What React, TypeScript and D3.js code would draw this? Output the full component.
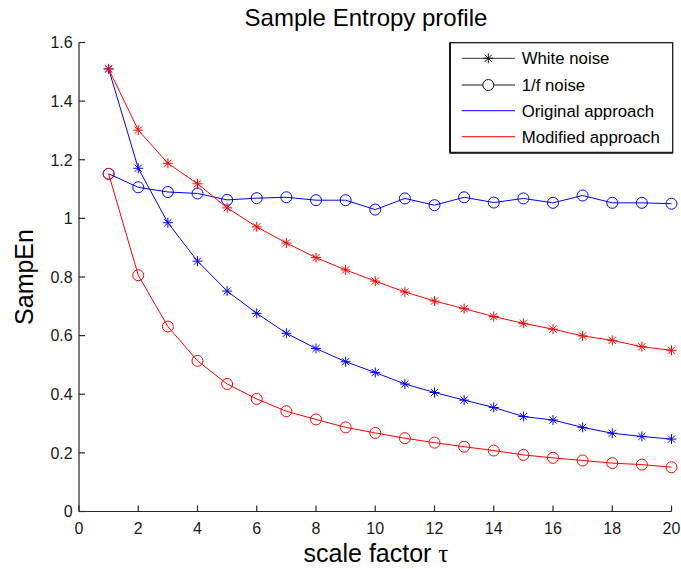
import React from "react";
import * as d3 from "d3";

const scaleFactors = d3.range(1, 21);
const whiteOriginal = [1.51, 1.171, 0.985, 0.854, 0.752, 0.676, 0.608, 0.556, 0.511, 0.474, 0.435, 0.406, 0.38, 0.355, 0.324, 0.312, 0.287, 0.267, 0.256, 0.247];
const whiteModified = [1.51, 1.301, 1.188, 1.118, 1.036, 0.971, 0.916, 0.866, 0.824, 0.786, 0.749, 0.718, 0.692, 0.665, 0.642, 0.622, 0.599, 0.584, 0.562, 0.55];
const pinkOriginal = [1.152, 1.106, 1.09, 1.085, 1.063, 1.069, 1.072, 1.062, 1.062, 1.03, 1.068, 1.045, 1.072, 1.054, 1.068, 1.053, 1.078, 1.053, 1.053, 1.05];
const pinkModified = [1.152, 0.806, 0.631, 0.514, 0.435, 0.384, 0.342, 0.314, 0.287, 0.268, 0.25, 0.235, 0.221, 0.208, 0.193, 0.183, 0.174, 0.165, 0.16, 0.151];
const xTicks = d3.range(0, 21, 2);
const yTicks = [0, 0.2, 0.4, 0.6, 0.8, 1, 1.2, 1.4, 1.6];
const legendLabels = ["White noise", "1/f noise", "Original approach", "Modified approach"];

const FONT = "Arial, 'Liberation Sans', Helvetica, sans-serif";
const BLUE = "#0000ff";
const RED = "#ff0000";

type Series = { values: number[]; color: string; marker: "star" | "circle" };
const series: Series[] = [
  { values: whiteOriginal, color: BLUE, marker: "star" },
  { values: pinkOriginal, color: BLUE, marker: "circle" },
  { values: whiteModified, color: RED, marker: "star" },
  { values: pinkModified, color: RED, marker: "circle" },
];

function Star({ x, y, color }: { x: number; y: number; color: string }) {
  const r = 5;
  const d = r * 0.72;
  return (
    <g stroke={color} strokeWidth={1}>
      <line x1={x - r} y1={y} x2={x + r} y2={y} />
      <line x1={x} y1={y - r} x2={x} y2={y + r} />
      <line x1={x - d} y1={y - d} x2={x + d} y2={y + d} />
      <line x1={x - d} y1={y + d} x2={x + d} y2={y - d} />
    </g>
  );
}

export default function App() {
  const W = 681, H = 569;
  const x = d3.scaleLinear().domain([0, 20]).range([79, 671.5]);
  const y = d3.scaleLinear().domain([0, 1.6]).range([511.5, 42.5]);
  const line = d3.line<number>().x((_, i) => x(scaleFactors[i])).y((v) => y(v));

  const lg = { x: 450, y: 42.7, w: 222.7, h: 110 };
  const rowsY = [58.3, 85, 110.7, 136.7];

  return (
    <svg width={W} height={H} style={{ position: "absolute", left: 0, top: 0, background: "#fff" }} fontFamily={FONT}>
      <rect x={0} y={0} width={W} height={H} fill="#fff" />
      {/* data */}
      {series.map((s, si) => (
        <g key={si}>
          <path d={line(s.values) || ""} fill="none" stroke={s.color} strokeWidth={1} />
          {s.values.map((v, i) =>
            s.marker === "star" ? (
              <Star key={i} x={x(scaleFactors[i])} y={y(v)} color={s.color} />
            ) : (
              <circle key={i} cx={x(scaleFactors[i])} cy={y(v)} r={5.5} fill="none" stroke={s.color} strokeWidth={1} />
            )
          )}
        </g>
      ))}
      {/* axes */}
      <g stroke="#262626" strokeWidth={1.2} fill="none">
        <line x1={x(0)} y1={y(0)} x2={x(20)} y2={y(0)} />
        <line x1={x(0)} y1={y(0)} x2={x(0)} y2={y(1.6)} />
        {xTicks.map((t) => (
          <line key={"xt" + t} x1={x(t)} y1={y(0)} x2={x(t)} y2={y(0) - 6} />
        ))}
        {yTicks.map((t) => (
          <line key={"yt" + t} x1={x(0)} y1={y(t)} x2={x(0) + 6} y2={y(t)} />
        ))}
      </g>
      <g fontSize={16} fill="#1a1a1a">
        {xTicks.map((t) => (
          <text key={"xl" + t} x={x(t)} y={533.5} textAnchor="middle">{t}</text>
        ))}
        {yTicks.map((t) => (
          <text key={"yl" + t} x={72.7} y={y(t) + 5.8} textAnchor="end">{String(t)}</text>
        ))}
      </g>
      <text x={366} y={26} fontSize={24} textAnchor="middle" fill="#000">Sample Entropy profile</text>
      <text x={376} y={562} fontSize={25} textAnchor="middle" fill="#000">
        scale factor <tspan fontFamily="'Liberation Serif', 'DejaVu Serif', serif">τ</tspan>
      </text>
      <text transform={`translate(33,${y(0.8)}) rotate(-90)`} fontSize={25} textAnchor="middle" fill="#000">SampEn</text>
      {/* legend */}
      <g>
        <rect x={lg.x} y={lg.y} width={lg.w} height={lg.h} fill="#fff" stroke="#1a1a1a" strokeWidth={1.3} />
        <line x1={lg.x} y1={lg.y + lg.h} x2={lg.x + lg.w} y2={lg.y + lg.h} stroke="#1a1a1a" strokeWidth={2} />
        <line x1={lg.x} y1={lg.y} x2={lg.x} y2={lg.y + lg.h} stroke="#1a1a1a" strokeWidth={2} />
        {legendLabels.map((lab, i) => {
          const ry = rowsY[i];
          const col = i === 0 ? "#333" : i === 1 ? "#666" : i === 2 ? BLUE : RED;
          return (
            <g key={lab}>
              <line x1={461.7} y1={ry} x2={515} y2={ry} stroke={col} strokeWidth={i === 1 ? 1.4 : 1} />
              {i === 0 && <Star x={488.3} y={ry} color="#111" />}
              {i === 1 && <circle cx={488.3} cy={ry} r={5.5} fill="#fff" stroke="#111" strokeWidth={1} />}
              <text x={521.7} y={ry + 6} fontSize={16.8} fill="#000">{lab}</text>
            </g>
          );
        })}
      </g>
    </svg>
  );
}
